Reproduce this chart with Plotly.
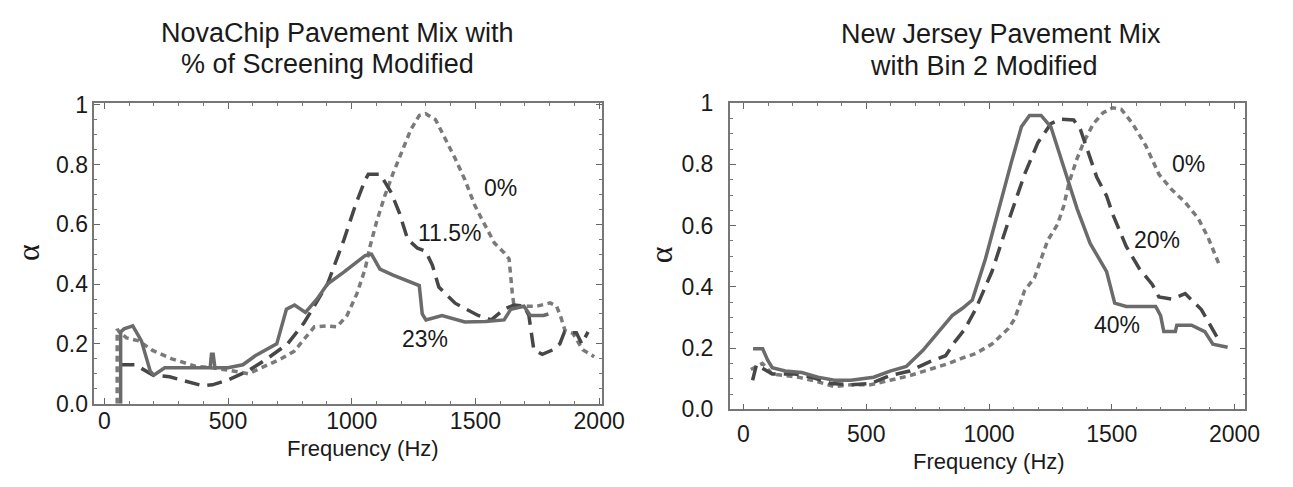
import plotly.graph_objects as go

# ---------------- Data: NovaChip (left) ----------------
nova_f_0 = [52, 52, 60, 90, 140, 195, 273, 365, 430, 503, 582, 635, 714, 767, 810, 849, 902, 941,
            981, 1021, 1054, 1074, 1101, 1134, 1167, 1206, 1239, 1273, 1299, 1339, 1378, 1418, 1458,
            1497, 1524, 1550, 1577, 1616, 1636, 1649, 1656, 1696, 1749, 1802, 1828, 1845, 1862,
            1894, 1934, 1980]
nova_a_0 = [0.0, 0.25, 0.24, 0.22, 0.21, 0.178, 0.15, 0.126, 0.12, 0.112, 0.1, 0.12, 0.15, 0.175,
            0.22, 0.257, 0.26, 0.257, 0.295, 0.368, 0.45, 0.526, 0.61, 0.696, 0.77, 0.853, 0.917,
            0.964, 0.97, 0.95, 0.886, 0.82, 0.748, 0.664, 0.62, 0.58, 0.537, 0.505, 0.484, 0.37,
            0.326, 0.326, 0.326, 0.337, 0.326, 0.29, 0.245, 0.235, 0.18, 0.157]

nova_f_115 = [61, 125, 198, 264, 396, 437, 503, 582, 661, 741, 807, 849, 902, 968, 1015, 1054, 1067,
              1116, 1160, 1193, 1226, 1266, 1299, 1326, 1352, 1418, 1511, 1564, 1616, 1656, 1696,
              1716, 1736, 1770, 1813, 1841, 1860, 1881, 1908, 1930, 1955]
nova_a_115 = [0.13, 0.13, 0.095, 0.09, 0.06, 0.063, 0.08, 0.11, 0.152, 0.2, 0.27, 0.326, 0.40,
              0.547, 0.664, 0.748, 0.767, 0.767, 0.705, 0.637, 0.55, 0.52, 0.51, 0.463, 0.39,
              0.336, 0.295, 0.28, 0.316, 0.33, 0.326, 0.295, 0.18, 0.165, 0.18, 0.2, 0.24, 0.237,
              0.237, 0.2, 0.24]

nova_f_23 = [66, 66, 80, 115, 150, 185, 200, 244, 300, 428, 433, 440, 447, 500, 560, 610, 697, 736,
             769, 813, 860, 902, 968, 1054, 1080, 1114, 1167, 1230, 1273, 1285, 1300, 1365, 1457,
             1540, 1616, 1643, 1696, 1722, 1775, 1795]
nova_a_23 = [0.0, 0.24, 0.25, 0.26, 0.21, 0.11, 0.095, 0.12, 0.12, 0.12, 0.165, 0.165, 0.12, 0.12,
             0.13, 0.16, 0.2, 0.316, 0.33, 0.305, 0.35, 0.40, 0.44, 0.495, 0.50, 0.45, 0.43, 0.41,
             0.395, 0.30, 0.28, 0.295, 0.273, 0.275, 0.28, 0.316, 0.326, 0.295, 0.295, 0.30]

# ---------------- Data: New Jersey (right) ----------------
nj_f_0 = [30, 77, 117, 223, 303, 370, 437, 517, 597, 677, 757, 837, 890, 945, 1012, 1079, 1105,
          1145, 1185, 1212, 1239, 1279, 1305, 1325, 1359, 1385, 1425, 1465, 1505, 1539, 1585, 1639,
          1692, 1745, 1799, 1852, 1892, 1939]
nj_a_0 = [0.13, 0.15, 0.115, 0.105, 0.09, 0.074, 0.08, 0.08, 0.095, 0.11, 0.13, 0.15, 0.167, 0.182,
          0.213, 0.264, 0.296, 0.388, 0.429, 0.49, 0.552, 0.604, 0.666, 0.738, 0.82, 0.871, 0.933,
          0.969, 0.985, 0.98, 0.933, 0.861, 0.768, 0.717, 0.676, 0.624, 0.562, 0.47]

nj_f_20 = [37, 53, 117, 210, 277, 357, 437, 517, 597, 677, 757, 823, 863, 900, 945, 1012, 1079, 1145,
           1199, 1252, 1292, 1345, 1372, 1399, 1439, 1479, 1505, 1559, 1612, 1665, 1692, 1745, 1799,
           1865, 1940]
nj_a_20 = [0.095, 0.146, 0.115, 0.115, 0.105, 0.084, 0.08, 0.084, 0.11, 0.125, 0.155, 0.175, 0.223,
           0.26, 0.326, 0.45, 0.614, 0.768, 0.871, 0.933, 0.948, 0.945, 0.915, 0.85, 0.758, 0.697,
           0.635, 0.532, 0.46, 0.408, 0.367, 0.36, 0.378, 0.326, 0.22]

nj_f_40 = [39, 78, 98, 117, 170, 237, 303, 370, 437, 530, 597, 663, 730, 783, 850, 892, 932, 985,
           1039, 1092, 1132, 1165, 1212, 1252, 1305, 1359, 1412, 1479, 1512, 1559, 1679, 1699, 1712,
           1759, 1765, 1825, 1879, 1912, 1972]
nj_a_40 = [0.198, 0.198, 0.161, 0.136, 0.125, 0.12, 0.105, 0.095, 0.095, 0.105, 0.125, 0.14, 0.192,
           0.244, 0.306, 0.33, 0.357, 0.49, 0.655, 0.81, 0.923, 0.96, 0.96, 0.923, 0.79, 0.655,
           0.542, 0.45, 0.347, 0.336, 0.336, 0.306, 0.254, 0.254, 0.275, 0.275, 0.254, 0.213, 0.203]

# tick labels
x_tickvals = [0, 500, 1000, 1500, 2000]
x_ticktext = ["0", "500", "1000", "1500", "2000"]
y_tickvals = [0, 0.2, 0.4, 0.6, 0.8, 1.0]
y_ticktext = ["0.0", "0.2", "0.4", "0.6", "0.8", "1"]

# curve labels (text, frequency, alpha)
nova_labels = [("0%", 1603, 0.72), ("11.5%", 1397, 0.57), ("23%", 1298, 0.215)]
nj_labels = [("0%", 1812, 0.80), ("20%", 1685, 0.552), ("40%", 1520, 0.275)]

# ---------------- Geometry (page pixels of the 1293x487 window) ----------------
PAGE_W, PAGE_H = 1293, 487
OFF = 8                      # default body margin of the page
W, H = PAGE_W - 2 * OFF, PAGE_H - 2 * OFF

def PX(px):
    return (px - OFF) / W

def PY(py):
    return 1 - (py - OFF) / H

FONT = "Liberation Sans, Arial, Helvetica, sans-serif"
C_SOLID = "#6b6b6b"
C_DOT = "#7a7a7a"
C_DASH = "#474747"
LW = 3.5
DOT = "6px,4.5px"
DASH = "15px,8px"

fig = go.Figure()

def add(f, a, color, dash, xa, ya):
    fig.add_trace(go.Scatter(x=f, y=a, mode="lines", xaxis=xa, yaxis=ya,
                             line=dict(color=color, width=LW, dash=dash),
                             showlegend=False, hoverinfo="skip"))

add(nova_f_0, nova_a_0, C_DOT, DOT, "x", "y")
add(nova_f_115, nova_a_115, C_DASH, DASH, "x", "y")
add(nova_f_23, nova_a_23, C_SOLID, "solid", "x", "y")
add(nj_f_0, nj_a_0, C_DOT, DOT, "x2", "y2")
add(nj_f_20, nj_a_20, C_DASH, DASH, "x2", "y2")
add(nj_f_40, nj_a_40, C_SOLID, "solid", "x2", "y2")

def xax(domain, rng, anchor, standoff):
    return dict(domain=domain, range=rng, anchor=anchor,
                tickvals=x_tickvals, ticktext=x_ticktext,
                ticks="inside", ticklen=6, tickwidth=1.2, tickcolor="#666",
                minor=dict(ticks="inside", dtick=100, tick0=0, ticklen=3, tickwidth=1, tickcolor="#777"),
                showline=True, linecolor="#777", linewidth=1.5, mirror="allticks",
                showgrid=False, zeroline=False,
                tickfont=dict(family=FONT, size=23, color="#1a1a1a"),
                ticklabelstandoff=standoff)

def yax(domain, rng, anchor, standoff):
    return dict(domain=domain, range=rng, anchor=anchor,
                tickvals=y_tickvals, ticktext=y_ticktext,
                ticks="inside", ticklen=6, tickwidth=1.2, tickcolor="#666",
                minor=dict(ticks="inside", dtick=0.05, tick0=0, ticklen=3, tickwidth=1, tickcolor="#777"),
                showline=True, linecolor="#777", linewidth=1.5, mirror="allticks",
                showgrid=False, zeroline=False,
                tickfont=dict(family=FONT, size=23, color="#1a1a1a"),
                ticklabelstandoff=standoff)

fig.update_layout(
    width=W, height=H,
    margin=dict(l=0, r=0, t=0, b=0),
    paper_bgcolor="white", plot_bgcolor="white",
    xaxis=xax([PX(96), PX(613)], [-40, 2012], "y", -4),
    yaxis=yax([PY(413), PY(95)], [0, 1.005], "x", 0),
    xaxis2=xax([PX(743), PX(1268)], [-56, 2044], "y2", 3),
    yaxis2=yax([PY(419), PY(95)], [0, 1.0], "x2", 10),
)

ann = []
for t, f, a in nova_labels:
    ann.append(dict(text=t, x=f, y=a, xref="x", yref="y", showarrow=False,
                    font=dict(family=FONT, size=23, color="#1a1a1a")))
for t, f, a in nj_labels:
    ann.append(dict(text=t, x=f, y=a, xref="x2", yref="y2", showarrow=False,
                    font=dict(family=FONT, size=23, color="#1a1a1a")))

titles = [("NovaChip Pavement Mix with", 344, 21), ("% of Screening Modified", 333, 54),
          ("New Jersey Pavement Mix", 1019, 22), ("with Bin 2 Modified", 1002, 56)]
for t, px, py in titles:
    ann.append(dict(text=t, x=PX(px), y=PY(py), xref="paper", yref="paper",
                    xanchor="center", yanchor="middle", showarrow=False,
                    font=dict(family=FONT, size=27, color="#1a1a1a")))

for px, py in [(370, 460), (1007, 474)]:
    ann.append(dict(text="Frequency (Hz)", x=PX(px), y=PY(py), xref="paper", yref="paper",
                    xanchor="center", yanchor="middle", showarrow=False, borderpad=0,
                    font=dict(family=FONT, size=22, color="#1a1a1a")))
for px, py in [(29, 253), (673, 256)]:
    ann.append(dict(text="α", x=PX(px), y=PY(py), xref="paper", yref="paper",
                    xanchor="center", yanchor="middle", showarrow=False, textangle=-90,
                    borderpad=0,
                    font=dict(family="Liberation Serif, Times New Roman, serif", size=32,
                              color="#1a1a1a")))

fig.update_layout(annotations=ann)
fig.write_html("out.html")
